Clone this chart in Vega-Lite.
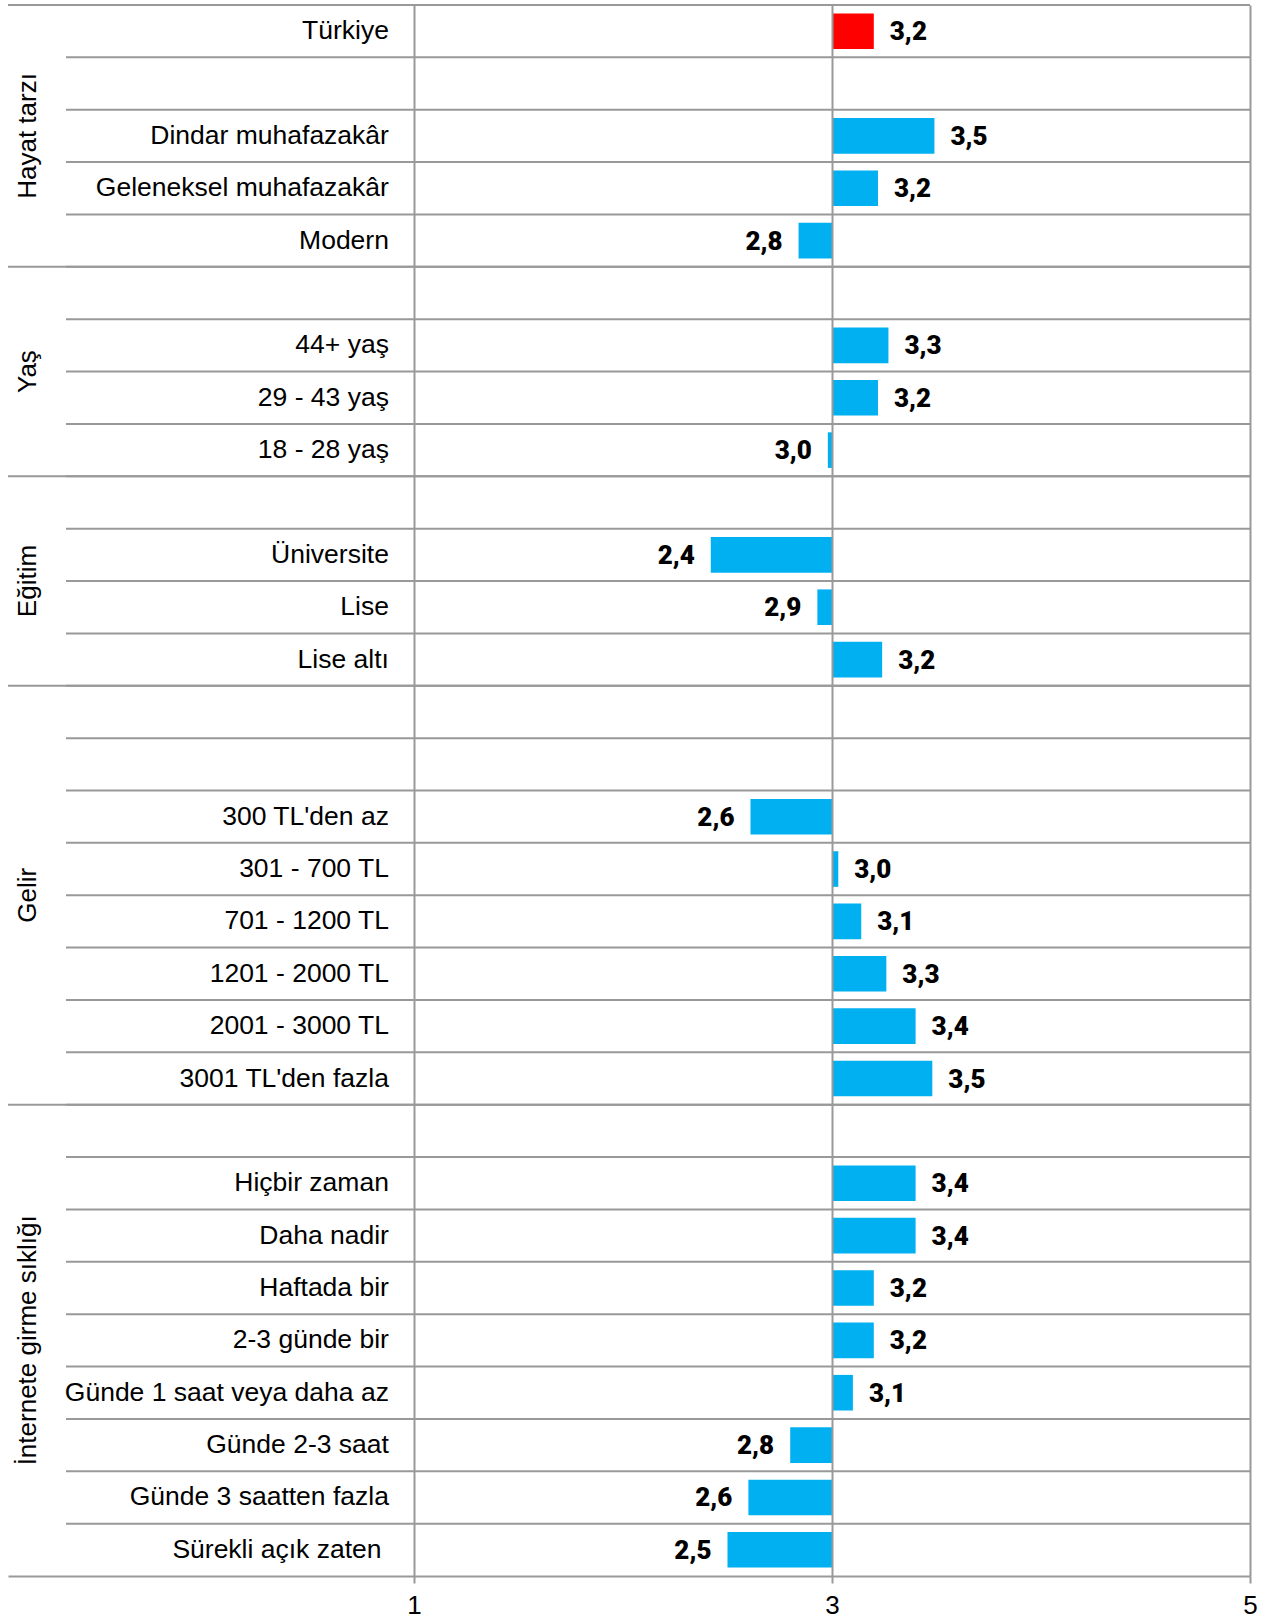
{
  "$schema": "https://vega.github.io/schema/vega-lite/v6.json",
  "width": 1242,
  "height": 1571,
  "autosize": {"type": "none"},
  "padding": {"left": 8, "top": 5, "right": 21, "bottom": 47},
  "background": "white",
  "config": {
    "view": {"stroke": null},
    "locale": {"number": {"decimal": ",", "thousands": ".", "grouping": [3], "currency": ["", " TL"]}}
  },
  "data": {
    "values": [
      {"row": "01", "group": "Hayat tarzı", "label": "Türkiye", "value": 3.20},
      {"row": "02", "group": "Hayat tarzı", "label": "", "value": null},
      {"row": "03", "group": "Hayat tarzı", "label": "Dindar muhafazakâr", "value": 3.49},
      {"row": "04", "group": "Hayat tarzı", "label": "Geleneksel muhafazakâr", "value": 3.22},
      {"row": "05", "group": "Hayat tarzı", "label": "Modern", "value": 2.84},
      {"row": "06", "group": "Yaş", "label": "", "value": null},
      {"row": "07", "group": "Yaş", "label": "44+ yaş", "value": 3.27},
      {"row": "08", "group": "Yaş", "label": "29 - 43 yaş", "value": 3.22},
      {"row": "09", "group": "Yaş", "label": "18 - 28 yaş", "value": 2.98},
      {"row": "10", "group": "Eğitim", "label": "", "value": null},
      {"row": "11", "group": "Eğitim", "label": "Üniversite", "value": 2.42},
      {"row": "12", "group": "Eğitim", "label": "Lise", "value": 2.93},
      {"row": "13", "group": "Eğitim", "label": "Lise altı", "value": 3.24},
      {"row": "14", "group": "Gelir", "label": "", "value": null},
      {"row": "15", "group": "Gelir", "label": "", "value": null},
      {"row": "16", "group": "Gelir", "label": "300 TL'den az", "value": 2.61},
      {"row": "17", "group": "Gelir", "label": "301 - 700 TL", "value": 3.03},
      {"row": "18", "group": "Gelir", "label": "701 - 1200 TL", "value": 3.14},
      {"row": "19", "group": "Gelir", "label": "1201 - 2000 TL", "value": 3.26},
      {"row": "20", "group": "Gelir", "label": "2001 - 3000 TL", "value": 3.40},
      {"row": "21", "group": "Gelir", "label": "3001 TL'den fazla", "value": 3.48},
      {"row": "22", "group": "İnternete girme sıklığı", "label": "", "value": null},
      {"row": "23", "group": "İnternete girme sıklığı", "label": "Hiçbir zaman", "value": 3.40},
      {"row": "24", "group": "İnternete girme sıklığı", "label": "Daha nadir", "value": 3.40},
      {"row": "25", "group": "İnternete girme sıklığı", "label": "Haftada bir", "value": 3.20},
      {"row": "26", "group": "İnternete girme sıklığı", "label": "2-3 günde bir", "value": 3.20},
      {"row": "27", "group": "İnternete girme sıklığı", "label": "Günde 1 saat veya daha az", "value": 3.10},
      {"row": "28", "group": "İnternete girme sıklığı", "label": "Günde 2-3 saat", "value": 2.80},
      {"row": "29", "group": "İnternete girme sıklığı", "label": "Günde 3 saatten fazla", "value": 2.60},
      {"row": "30", "group": "İnternete girme sıklığı", "label": "Sürekli açık zaten\u00a0\u200b", "value": 2.50}
    ]
  },
  "layer": [
    {
      "layer": [
        {
          "mark": {"type": "rule", "color": "#999999", "strokeWidth": 2},
          "encoding": {
            "y": {"field": "row", "type": "ordinal", "bandPosition": 0, "axis": null, "scale": {"paddingInner": 0, "paddingOuter": 0}},
            "x": {"datum": -0.665, "type": "quantitative"},
            "x2": {"datum": 5}
          }
        },
        {
          "transform": [
            {"window": [{"op": "row_number", "as": "gi"}], "groupby": ["group"], "sort": [{"field": "row"}]},
            {"filter": "datum.gi == 1"}
          ],
          "mark": {"type": "rule", "color": "#999999", "strokeWidth": 2},
          "encoding": {
            "y": {"field": "row", "type": "ordinal", "bandPosition": 0, "axis": null},
            "x": {"datum": -0.9426, "type": "quantitative"},
            "x2": {"datum": 5}
          }
        },
        {
          "transform": [{"filter": "datum.value != null"}],
          "mark": {"type": "bar", "height": {"band": 0.68}},
          "encoding": {
            "y": {"field": "row", "type": "ordinal", "axis": null},
            "x": {
              "field": "value", "type": "quantitative",
              "scale": {"domain": [-0.9426, 5], "nice": false, "zero": false},
              "axis": {
                "values": [1, 3, 5], "format": "d", "title": null,
                "grid": true, "gridColor": "#999999", "gridWidth": 2,
                "domain": true, "domainColor": "#999999", "domainWidth": 2,
                "ticks": true, "tickColor": "#999999", "tickWidth": 2, "tickSize": 7,
                "labelFont": "Liberation Sans", "labelFontSize": 26, "labelColor": "black", "labelPadding": 9,
                "labelFlush": false, "labelOverlap": false,
                "zindex": 1
              }
            },
            "x2": {"datum": 3},
            "color": {"condition": {"test": "datum.label === 'Türkiye'", "value": "#FF0000"}, "value": "#00B0F0"}
          }
        },
        {
          "transform": [{"filter": "datum.value != null && datum.value >= 3"}],
          "mark": {"type": "text", "align": "left", "baseline": "middle", "dx": 16, "dy": 1, "font": "Roboto", "fontWeight": 900, "fontSize": 26, "color": "black"},
          "encoding": {
            "y": {"field": "row", "type": "ordinal", "axis": null},
            "x": {"field": "value", "type": "quantitative"},
            "text": {"field": "value", "type": "quantitative", "format": ".1f"}
          }
        },
        {
          "transform": [{"filter": "datum.value != null && datum.value < 3"}],
          "mark": {"type": "text", "align": "right", "baseline": "middle", "dx": -16, "dy": 1, "font": "Roboto", "fontWeight": 900, "fontSize": 26, "color": "black"},
          "encoding": {
            "y": {"field": "row", "type": "ordinal", "axis": null},
            "x": {"field": "value", "type": "quantitative"},
            "text": {"field": "value", "type": "quantitative", "format": ".1f"}
          }
        },
        {
          "mark": {"type": "text", "align": "right", "baseline": "middle", "font": "Liberation Sans", "fontSize": 26.5, "color": "black"},
          "encoding": {
            "y": {"field": "row", "type": "ordinal", "axis": null},
            "x": {"datum": 0.88, "type": "quantitative"},
            "text": {"field": "label"}
          }
        }
      ]
    },
    {
      "transform": [
        {"window": [{"op": "row_number", "as": "ri"}], "sort": [{"field": "row"}]},
        {"aggregate": [{"op": "mean", "field": "ri", "as": "mid"}], "groupby": ["group"]}
      ],
      "mark": {"type": "text", "angle": 270, "align": "center", "baseline": "middle", "font": "Liberation Sans", "fontSize": 26, "color": "black"},
      "encoding": {
        "y": {"field": "mid", "type": "quantitative", "axis": null, "scale": {"domain": [0.5, 30.5], "reverse": true, "nice": false, "zero": false}},
        "x": {"datum": -0.847, "type": "quantitative"},
        "text": {"field": "group"}
      }
    }
  ],
  "resolve": {"scale": {"y": "independent"}}
}
